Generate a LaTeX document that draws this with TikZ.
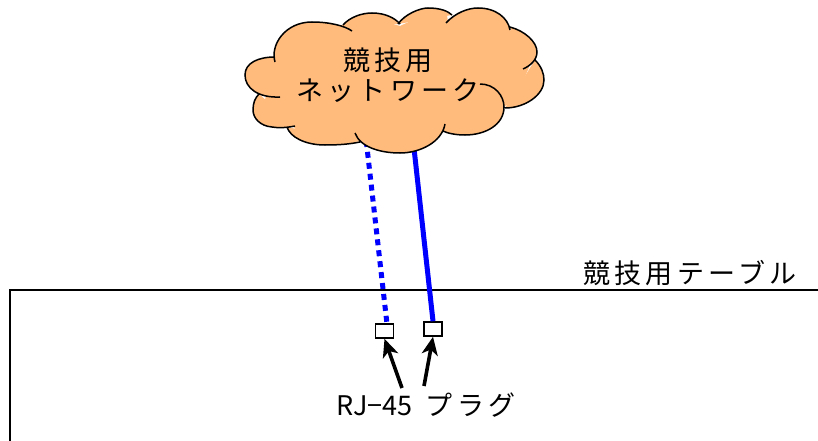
\documentclass[tikz,border=0pt]{standalone}
\usepackage{xcolor}
\usepackage{fontspec}
\usetikzlibrary{arrows.meta, positioning}
\newfontfamily\jpfont[LetterSpace=16]{Noto Sans CJK JP}
\newfontfamily\plainfont{Noto Sans CJK JP}
\definecolor{cloudorange}{HTML}{FFBB7C}
\definecolor{cableblue}{HTML}{0000FF}
\tikzset{
    cloud_line/.style={
        draw=black, line width=1.5pt, fill=cloudorange
    },
    cloud_label/.style={
        align=center, font=\jpfont\fontsize{27}{30}\selectfont, inner sep=0pt
    },
    plain_label/.style={
        font=\jpfont\fontsize{27}{30}\selectfont, inner sep=0pt
    },
    plug/.style={
        rectangle, draw=black, line width=1.6pt, fill=white, minimum width=18pt, minimum height=14pt, inner sep=0pt
    },
    cable/.style={
        draw=cableblue, line width=5pt
    },
    cable_dotted/.style={
        draw=cableblue, line width=5pt, dash pattern=on 6pt off 5pt
    },
    pointer/.style={
        line width=3.6pt, -{Stealth[length=18pt, width=16pt, inset=5pt]}, draw=black
    }
}
\begin{document}
\begin{tikzpicture}[x=1pt, y=-1pt]
    \useasboundingbox (0,0) rectangle (818,441);

    % Table
    \draw[line width=1.3pt] (10,441) -- (10,290) -- (818,290);
    \node[plain_label] (table_label) at (690,273) {競技用テーブル};

    % Plugs
    \node[plug] (plug_a) at (384.5,331) {};
    \node[plug] (plug_b) at (433,329) {};

    % Cables
    \coordinate (cable_a) at (365,130);
    \coordinate (cable_b) at (412,130);
    \coordinate (plug_a_top) at (387,324);
    \draw[cable_dotted] (cable_a) -- (plug_a_top);
    \draw[cable] (cable_b) -- (plug_b.north);

    % Cloud
    \fill[cloudorange] (270,60) -- (330,28) -- (372,18) -- (400,26) -- (428,13) -- (447,15) -- (448,22) -- (478,13) -- (512,31)
        -- (530,65) -- (515,100) -- (490,115) -- (445,130) -- (400,145) -- (355,141) -- (325,140) -- (300,133) -- (265,100) -- (270,75) -- cycle;
    \draw[cloud_line]
        (280,97) .. controls (258,98) and (245,88) .. (245,75) .. controls (245,63) and (258,57) .. (275,57)
        (275,62) .. controls (270,45) and (285,22) .. (312,22) .. controls (330,22) and (345,26) .. (352,31)
        (343,25) .. controls (350,17) and (362,13) .. (372,13) .. controls (385,13) and (395,18) .. (400,24)
        (398,24) .. controls (405,14) and (420,8) .. (428,8) .. controls (440,8) and (448,11) .. (452,15)
        (446,23) .. controls (455,13) and (468,8) .. (478,8) .. controls (496,8) and (508,18) .. (510,30)
        (510,27) .. controls (525,31) and (537,42) .. (537,52) .. controls (537,60) and (530,66) .. (523,69)
        (535,60) .. controls (541,66) and (544,73) .. (544,80) .. controls (544,95) and (525,108) .. (505,108)
        (480,84) .. controls (495,84) and (504,96) .. (504,107) .. controls (504,125) and (485,135) .. (465,135) .. controls (455,135) and (447,133) .. (443,131)
        (445,124) .. controls (442,142) and (420,153) .. (400,153) .. controls (380,153) and (360,147) .. (355,133)
        (360,142) .. controls (350,144) and (340,145) .. (325,145) .. controls (305,145) and (290,137) .. (287,127)
        (295,126) .. controls (285,128) and (278,128) .. (272,127) .. controls (260,126) and (253,118) .. (253,110) .. controls (253,103) and (255,98) .. (259,94);
    \node[cloud_label] (network) at (388,75) {競技用\\ネットワーク};

    % Plug label and pointers
    \node[plain_label] (plug_label) at (426,405) {{\plainfont\fontsize{27}{30}\selectfont RJ−45}\hspace{3pt} プラグ};
    \coordinate (pointer_a) at (402,388);
    \coordinate (pointer_b) at (424,386);
    \draw[pointer] (pointer_a) -- (plug_a.south);
    \draw[pointer] (pointer_b) -- (plug_b.south);
\end{tikzpicture}
\end{document}
